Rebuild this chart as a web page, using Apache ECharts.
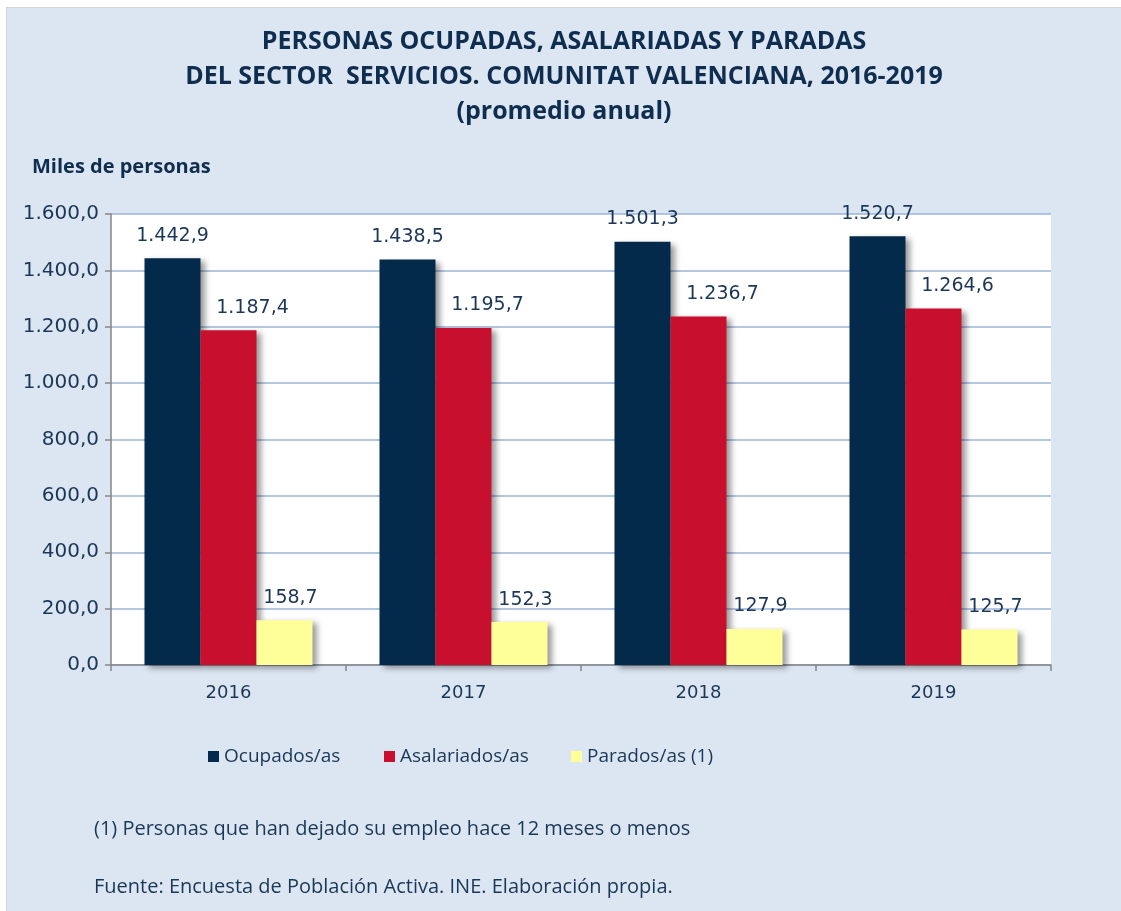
<!DOCTYPE html>
<html>
<head>
<meta charset="utf-8">
<script src="https://cdn.jsdelivr.net/npm/echarts@6/dist/echarts.min.js"></script>
<style>
  html, body { margin: 0; padding: 0; background: #fff; }
  #chart {
    position: absolute; left: 6px; top: 7px;
    width: 1115px; height: 904px;
    border-left: 1px solid #d4d4d4; border-top: 1px solid #d4d4d4;
    box-sizing: border-box;
  }
</style>
</head>
<body>
<div id="chart"></div>
<script>
const years = ["2016", "2017", "2018", "2019"]
const ocupados = [1442.9, 1438.5, 1501.3, 1520.7]
const asalariados = [1187.4, 1195.7, 1236.7, 1264.6]
const parados = [158.7, 152.3, 127.9, 125.7]
const seriesNames = ["Ocupados/as", "Asalariados/as", "Parados/as (1)"]

const navy = "#1b3656"
const narrow = "'Liberation Sans Narrow', 'Open Sans', 'Noto Sans', sans-serif"
const wide = "'DejaVu Sans', 'Noto Sans', sans-serif"

// 1.442,9 style
function fmt(v) {
  let s = v.toFixed(1).split(".")
  let int = s[0].replace(/\B(?=(\d{3})+(?!\d))/g, ".")
  return int + "," + s[1]
}

function barSeries(name, data, color, offsetX) {
  return {
    name: name,
    type: "bar",
    data: data,
    barWidth: 56,
    barGap: "0%",
    itemStyle: {
      color: color,
      shadowColor: "rgba(0,0,0,0.4)",
      shadowBlur: 6,
      shadowOffsetX: 4,
      shadowOffsetY: 3,
    },
    label: {
      show: true,
      position: "top",
      distance: 13,
      offset: [offsetX, 0],
      color: navy,
      fontFamily: wide,
      fontSize: 19,
      formatter: (p) => fmt(p.value),
    },
  }
}

function legendAt(left, name) {
  return {
    left: left,
    top: 734,
    itemWidth: 11,
    itemHeight: 11,
    icon: "rect",
    data: [name],
    textStyle: { color: navy, fontFamily: narrow, fontSize: 19 },
  }
}

let myChart = echarts.init(document.getElementById("chart"))
myChart.setOption({
  backgroundColor: "#dce6f2",
  animation: false,
  title: [
    {
      text: "PERSONAS OCUPADAS, ASALARIADAS Y PARADAS\nDEL SECTOR  SERVICIOS. COMUNITAT VALENCIANA, 2016-2019\n(promedio anual)",
      left: "center",
      top: 11,
      textStyle: {
        color: "#0f2d4f",
        fontFamily: narrow,
        fontWeight: "bold",
        fontSize: 25,
        lineHeight: 35,
      },
    },
    {
      text: "Miles de personas",
      left: 20,
      top: 144,
      textStyle: { color: "#0f2d4f", fontFamily: narrow, fontWeight: "bold", fontSize: 20 },
    },
    {
      text: "(1) Personas que han dejado su empleo hace 12 meses o menos",
      left: 82,
      top: 806,
      textStyle: { color: navy, fontFamily: narrow, fontWeight: "normal", fontSize: 20 },
    },
    {
      text: "Fuente: Encuesta de Población Activa. INE. Elaboración propia.",
      left: 82,
      top: 864,
      textStyle: { color: navy, fontFamily: narrow, fontWeight: "normal", fontSize: 20 },
    },
  ],
  legend: [
    legendAt(196, seriesNames[0]),
    legendAt(372, seriesNames[1]),
    legendAt(559, seriesNames[2]),
  ],
  grid: {
    left: 104,
    right: 70,
    top: 206,
    bottom: 246,
    show: true,
    backgroundColor: "#ffffff",
    borderWidth: 0,
  },
  xAxis: {
    type: "category",
    data: years,
    axisLine: { lineStyle: { color: "#868686", width: 1.5 } },
    axisTick: { show: true, length: 6, lineStyle: { color: "#868686", width: 1.5 } },
    axisLabel: { color: navy, fontFamily: wide, fontSize: 18, margin: 19 },
  },
  yAxis: {
    type: "value",
    min: 0,
    max: 1600,
    interval: 200,
    axisLine: { show: true, lineStyle: { color: "#868686", width: 1.5 } },
    axisTick: { show: true, length: 6, lineStyle: { color: "#868686", width: 1.5 } },
    axisLabel: {
      color: navy,
      fontFamily: wide,
      fontSize: 20,
      margin: 12,
      formatter: (v) => fmt(v),
    },
    splitLine: { lineStyle: { color: "#9ab5d8", width: 1.5 } },
  },
  series: [
    barSeries(seriesNames[0], ocupados, "#032a4a", 0),
    barSeries(seriesNames[1], asalariados, "#c8102e", 24),
    barSeries(seriesNames[2], parados, "#ffff99", 6),
  ],
})
</script>
</body>
</html>
